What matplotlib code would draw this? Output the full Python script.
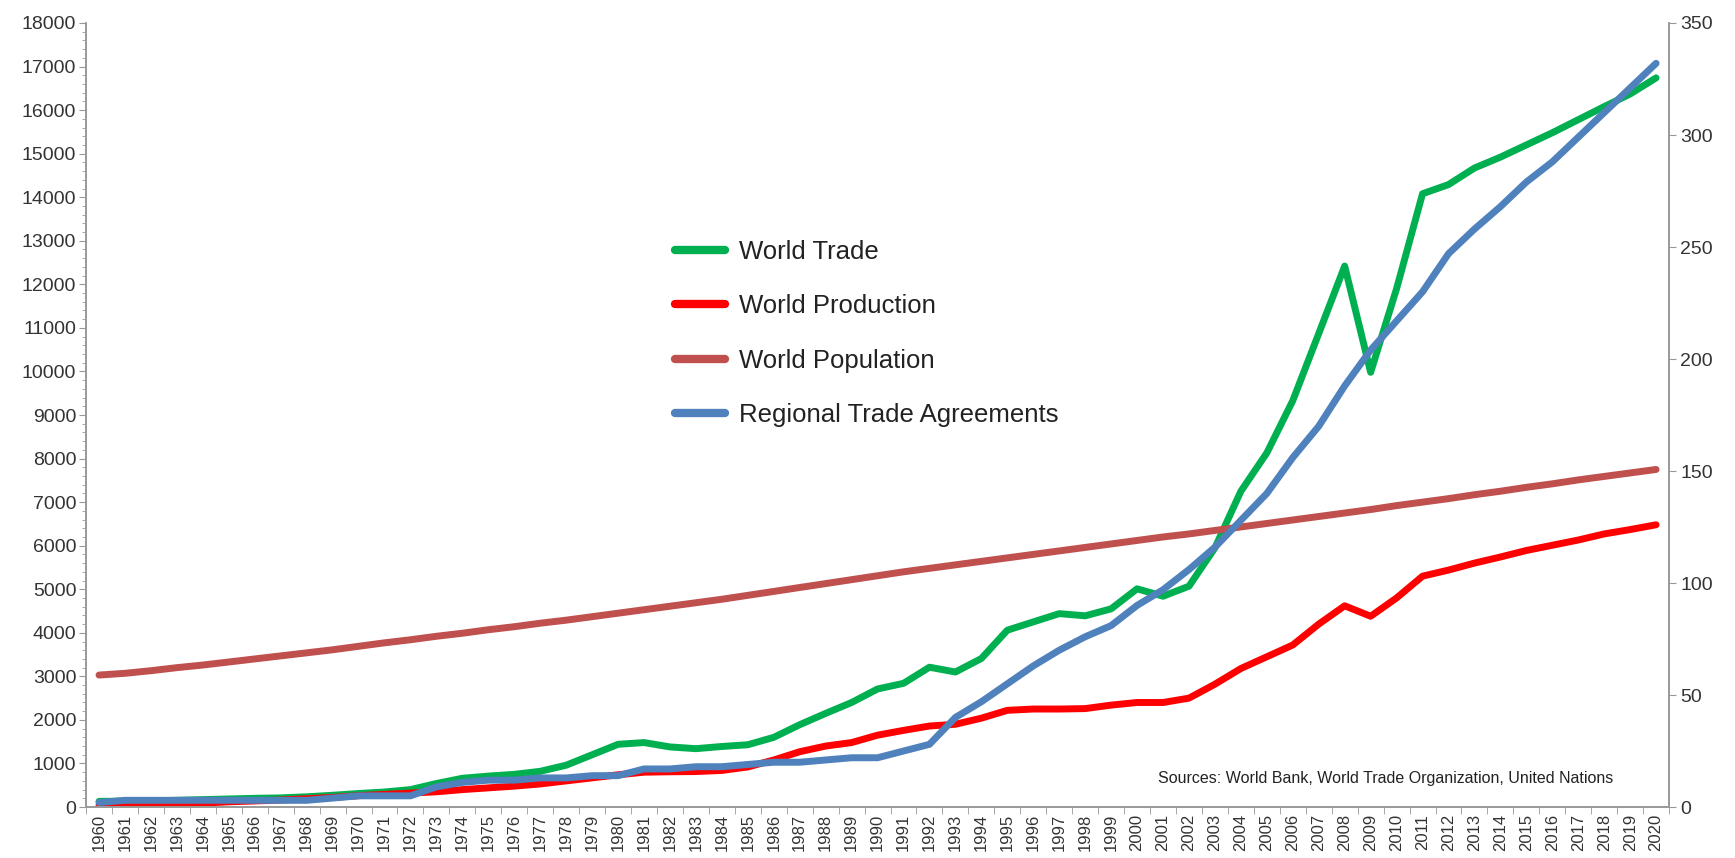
import numpy as np
import matplotlib.pyplot as plt
from matplotlib.ticker import MultipleLocator

plt.rcParams['font.family'] = ['Liberation Sans', 'DejaVu Sans']

# Data
years = list(range(1960, 2021))

world_trade = [130, 135, 140, 155, 170, 185, 200, 210, 235, 270,
               310, 345, 400, 540, 660, 710, 750, 820, 960, 1200,
               1440, 1480, 1380, 1340, 1390, 1430, 1600, 1890, 2150, 2400,
               2710, 2840, 3210, 3100, 3410, 4060, 4250, 4440, 4390, 4550,
               5010, 4840, 5070, 5950, 7250, 8130, 9330, 10870, 12420, 9980,
               11900, 14080, 14290, 14670, 14920, 15200, 15480, 15780, 16080, 16370,
               16740]

world_production = [40, 50, 60, 70, 90, 120, 140, 160, 190, 220,
                    260, 290, 320, 350, 400, 440, 480, 530, 600, 670,
                    740, 800, 810, 815, 840, 920, 1080, 1270, 1400, 1480,
                    1650, 1760, 1860, 1900, 2040, 2220, 2250, 2250, 2260, 2340,
                    2400, 2400, 2500, 2820, 3180, 3450, 3720, 4200, 4620, 4380,
                    4800, 5300, 5440, 5600, 5740, 5890, 6010, 6130, 6270, 6370,
                    6480]

world_population = [3030, 3070, 3130, 3200, 3260, 3330, 3400, 3470, 3540, 3610,
                    3690, 3770, 3840, 3920, 3990, 4070, 4140, 4220, 4290, 4370,
                    4450, 4530, 4610, 4690, 4770, 4860, 4950, 5040, 5130, 5220,
                    5310, 5400, 5480, 5560, 5640, 5720, 5800, 5880, 5960, 6040,
                    6120, 6200, 6270, 6350, 6430, 6510, 6590, 6670, 6750, 6830,
                    6920, 7000, 7080, 7170, 7250, 7340, 7420, 7510, 7590, 7670,
                    7750]

# regional trade agreements (right axis)
rta = [2, 3, 3, 3, 3, 3, 3, 3, 3, 4,
       5, 5, 5, 9, 11, 12, 12, 13, 13, 14,
       14, 17, 17, 18, 18, 19, 20, 20, 21, 22,
       22, 25, 28, 40, 47, 55, 63, 70, 76, 81,
       90, 97, 106, 116, 128, 140, 156, 170, 188, 204,
       217, 230, 247, 258, 268, 279, 288, 299, 310, 321,
       332]

fig = plt.figure(figsize=(17.35, 8.58), dpi=100)
ax = fig.add_axes([0.0496, 0.0594, 0.9124, 0.9138])
ax2 = ax.twinx()

lw = 5
style = dict(solid_capstyle='round', solid_joinstyle='round', linewidth=lw)
l1, = ax.plot(years, world_trade, color='#00B050', label='World Trade', **style)
l2, = ax.plot(years, world_production, color='#FF0000', label='World Production', **style)
l3, = ax.plot(years, world_population, color='#C0504D', label='World Population', **style)
l4, = ax2.plot(years, rta, color='#4F81BD', label='Regional Trade Agreements', **style)

# axes limits and ticks
ax.set_xlim(1959.5, 2020.5)
ax.set_ylim(0, 18000)
ax2.set_ylim(0, 350)

ax.yaxis.set_major_locator(MultipleLocator(1000))
ax.yaxis.set_minor_locator(MultipleLocator(200))
ax2.yaxis.set_major_locator(MultipleLocator(50))

ax.set_xticks(years)
ax.set_xticklabels([str(y) for y in years], rotation=90, fontsize=12, color='#333333')
ax.set_xticks(np.arange(1959.5, 2021, 1), minor=True)
ax.tick_params(axis='x', which='major', length=0, pad=5)
ax.tick_params(axis='x', which='minor', length=5, color='#999999', direction='out')

ax.tick_params(axis='y', which='major', labelsize=14, labelcolor='#333333',
               length=5, color='#999999', direction='out', pad=2)
ax.tick_params(axis='y', which='minor', length=3, color='#999999', direction='out')
ax2.tick_params(axis='y', which='major', labelsize=14, labelcolor='#333333',
                length=5, color='#999999', direction='out', pad=3)

for a in (ax, ax2):
    a.spines['top'].set_visible(False)
    for s in ('left', 'right', 'bottom'):
        a.spines[s].set_color('#999999')
        a.spines[s].set_linewidth(1.2)

# legend in the middle of the plot
leg = ax2.legend(handles=[l1, l2, l3, l4], loc='upper left',
                 bbox_to_anchor=(675 / 1735, 1 - 240 / 858),
                 bbox_transform=fig.transFigure,
                 frameon=False, fontsize=18.5, handlelength=1.95,
                 handletextpad=0.55, labelspacing=1.18, borderpad=0, borderaxespad=0)
for line in leg.get_lines():
    line.set_linewidth(6)
for t in leg.get_texts():
    t.set_color('#222222')

fig.text(1613 / 1735, 1 - 778 / 858,
         'Sources: World Bank, World Trade Organization, United Nations',
         ha='right', va='center', fontsize=11.5, color='#222222')

fig.savefig('out.png', dpi=100)
